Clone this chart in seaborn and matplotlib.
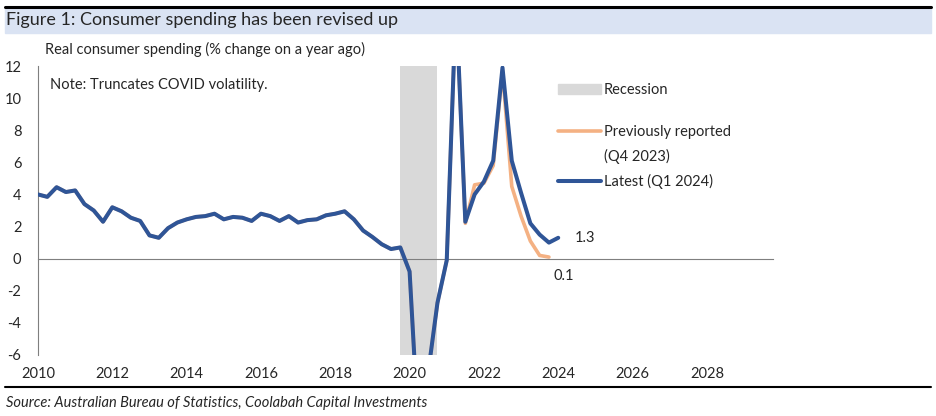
import numpy as np
import pandas as pd
import seaborn as sns
import matplotlib.pyplot as plt
from matplotlib.patches import Patch, Rectangle
from matplotlib.lines import Line2D

# Real consumer spending, % y/y, quarterly 2010 Q1 .. 2024 Q1
latest = [4.0, 3.85, 4.45, 4.15, 4.25, 3.4, 3.0, 2.3, 3.2, 2.95,
          2.55, 2.35, 1.45, 1.3, 1.9, 2.25, 2.45, 2.6, 2.65, 2.8,
          2.45, 2.6, 2.55, 2.35, 2.8, 2.65, 2.35, 2.65, 2.25, 2.4,
          2.45, 2.7, 2.8, 2.95, 2.45, 1.75, 1.35, 0.9, 0.6, 0.7,
          -0.8, -11.2, -7.1, -2.75, -0.1, 16.0, 2.3, 4.0, 4.8, 6.1,
          11.9, 6.1, 4.1, 2.2, 1.5, 1.0, 1.3]
# previously reported (Q4 2023): 2010 Q1 .. 2023 Q4
previous = latest[:46] + [2.2, 4.6, 4.7, 5.8, 11.7, 4.5, 2.65, 1.1, 0.2, 0.1]

quarters_latest = 2010 + np.arange(len(latest)) / 4
quarters_prev = 2010 + np.arange(len(previous)) / 4
recession = (2019.75, 2020.75)
x_ticks = list(range(2010, 2030, 2))
y_ticks = list(range(-6, 13, 2))

df_latest = pd.DataFrame({"date": quarters_latest, "value": latest})
df_prev = pd.DataFrame({"date": quarters_prev, "value": previous})

BLUE = "#2F5597"
ORANGE = "#F4B183"
GREY = "#D9D9D9"

sns.set_style("white")
plt.rcParams["font.family"] = ["Lato", "DejaVu Sans"]
plt.rcParams["axes.unicode_minus"] = False

fig = plt.figure(figsize=(9.36, 4.16), dpi=100)
ax = fig.add_axes([38 / 936, 1 - 355 / 416, 735 / 936, 289 / 416])

ax.axvspan(*recession, color=GREY, lw=0, zorder=0)
sns.lineplot(data=df_prev, x="date", y="value", color=ORANGE, lw=2.6, ax=ax, zorder=2)
sns.lineplot(data=df_latest, x="date", y="value", color=BLUE, lw=2.9, ax=ax, zorder=3)

ax.set_xlim(2010, 2029.78)
ax.set_ylim(-6, 12)
ax.set_xlabel("")
ax.set_ylabel("")

# axes styling
for s in ["top", "right"]:
    ax.spines[s].set_visible(False)
ax.spines["left"].set_color("#7f7f7f")
ax.spines["bottom"].set_position(("data", 0))
ax.spines["bottom"].set_color("#7f7f7f")
ax.set_yticks(y_ticks)
ax.tick_params(axis="y", direction="out", length=4, color="#7f7f7f",
               labelsize=10.5, pad=8)
ax.set_xticks(x_ticks)
ax.tick_params(axis="x", direction="out", length=4, color="#7f7f7f",
               labelbottom=False)
sec = ax.secondary_xaxis("bottom")
sec.set_xticks(x_ticks)
sec.tick_params(length=0, labelsize=10.5, pad=9)
sec.spines["bottom"].set_visible(False)

# annotations
ax.text(quarters_latest[-1] + 0.45, latest[-1], f"{latest[-1]:.1f}",
        fontsize=10.5, va="center", ha="left")
ax.text(quarters_prev[-1] + 0.4, previous[-1] - 0.75, f"{previous[-1]:.1f}",
        fontsize=10.5, va="top", ha="center")
ax.text(0.017, 0.96, "Note: Truncates COVID volatility.", transform=ax.transAxes,
        fontsize=10.5, va="top", ha="left")

# legends
leg1 = ax.legend(handles=[Patch(color=GREY)], labels=["Recession"],
                 loc="upper left", bbox_to_anchor=(0.7, 0.962), frameon=False,
                 fontsize=10.5, handlelength=2.9, handleheight=0.7,
                 handletextpad=0.2, borderaxespad=0)
ax.add_artist(leg1)
ax.legend(handles=[Line2D([], [], color=ORANGE, lw=2.6),
                   Line2D([], [], color="none"),
                   Line2D([], [], color=BLUE, lw=2.9)],
          labels=["Previously reported", "(Q4 2023)", "Latest (Q1 2024)"],
          loc="upper left", bbox_to_anchor=(0.7, 0.817), frameon=False,
          fontsize=10.5, handlelength=2.9, handletextpad=0.2,
          labelspacing=0.68, borderaxespad=0)

# header / footer
fig.patches.append(Rectangle((5 / 936, 1 - 33 / 416), 926 / 936, 26 / 416,
                             transform=fig.transFigure, color="#DAE3F3", zorder=0))
fig.add_artist(Line2D([5 / 936, 931 / 936], [1 - 6.5 / 416] * 2, color="black", lw=2.2))
fig.add_artist(Line2D([5 / 936, 931 / 936], [1 - 387 / 416] * 2, color="black", lw=1.5))
fig.text(6 / 936, 1 - 20 / 416, "Figure 1: Consumer spending has been revised up",
         fontsize=13, va="center", ha="left")
fig.text(45 / 936, 1 - 49 / 416, "Real consumer spending (% change on a year ago)",
         fontsize=10.5, va="center", ha="left")
fig.text(6 / 936, 1 - 403 / 416,
         "Source: Australian Bureau of Statistics, Coolabah Capital Investments",
         fontsize=10.5, style="italic", va="center", ha="left")

fig.savefig("out.png", dpi=100)
